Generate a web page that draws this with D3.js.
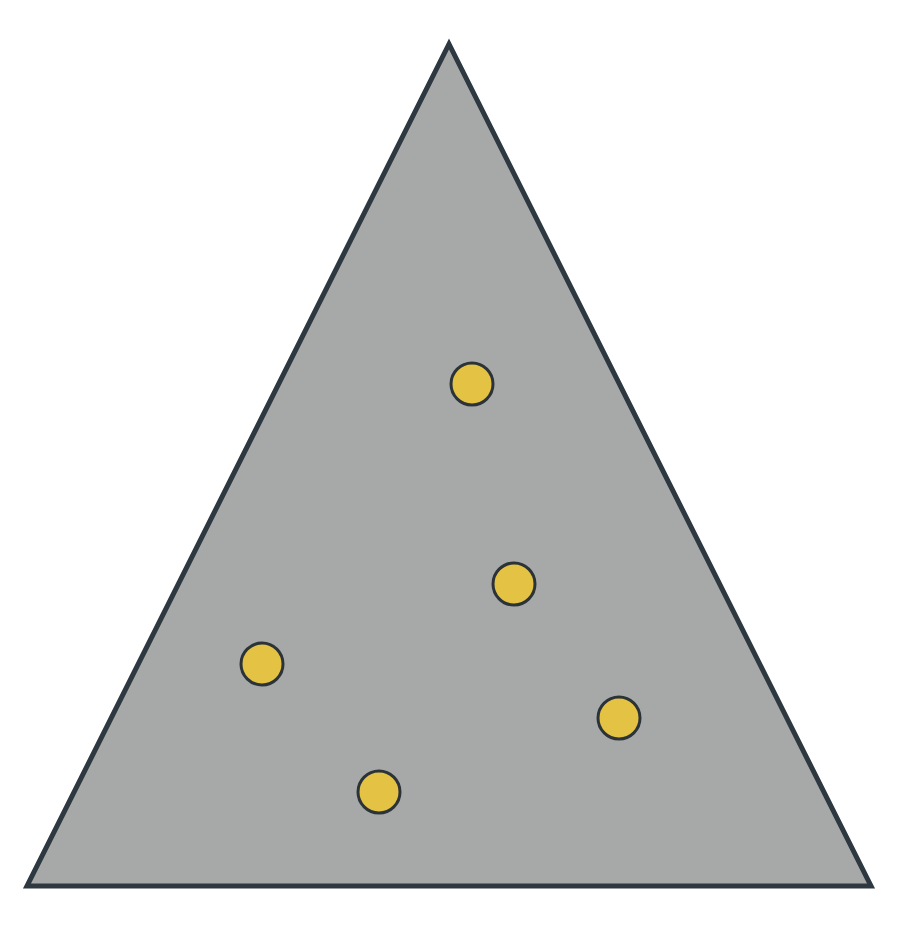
<!DOCTYPE html>
<html>
<head>
<meta charset="utf-8">
<script src="https://cdn.jsdelivr.net/npm/d3@7"></script>
<style>
  html, body { margin: 0; padding: 0; background: #fff; }
</style>
</head>
<body>
<svg id="chart" width="905" height="928"></svg>
<script>
// triangle corners and points, in picture units
const tri_x = [449, 27, 871];
const tri_y = [44, 886, 886];
const pt_x = [472, 514, 262, 619, 379];
const pt_y = [384, 584, 664, 718, 792];

const svg = d3.select("#chart");
const width = +svg.attr("width");
const height = +svg.attr("height");

const x = d3.scaleLinear().domain([0, 905]).range([0, width]);
const y = d3.scaleLinear().domain([0, 928]).range([0, height]);

const corners = tri_x.map((d, i) => [x(d), y(tri_y[i])]);

svg.append("path")
	.attr("d", d3.line()(corners) + "Z")
	.attr("fill", "#a6a9a8")
	.attr("stroke", "#2e3840")
	.attr("stroke-width", 5)
	.attr("stroke-linejoin", "miter");

const points = pt_x.map((d, i) => ({ x: d, y: pt_y[i] }));

svg.append("g")
	.selectAll("circle")
	.data(points)
	.join("circle")
	.attr("cx", (d) => x(d.x))
	.attr("cy", (d) => y(d.y))
	.attr("r", 21)
	.attr("fill", "#e3c244")
	.attr("stroke", "#2c3338")
	.attr("stroke-width", 3);
</script>
</body>
</html>
